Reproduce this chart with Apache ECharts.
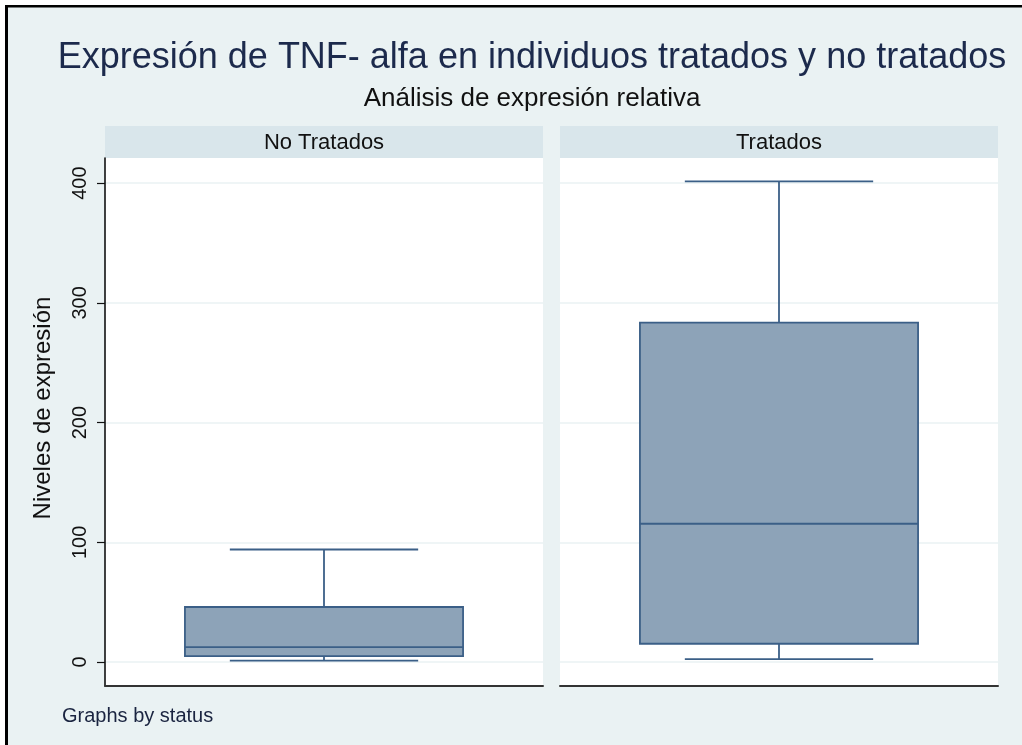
<!DOCTYPE html>
<html>
<head>
<meta charset="utf-8">
<script src="https://cdn.jsdelivr.net/npm/echarts@6/dist/echarts.min.js"></script>
<style>
  html, body { margin: 0; padding: 0; background: #fff; }
  #chart { width: 1022px; height: 745px; }
</style>
</head>
<body>
<div id="chart"></div>
<script>
// panels (one per status group)
const panels = ['No Tratados', 'Tratados']
// [min, q1, median, q3, max]
const boxNoTratados = [1.2, 5, 12.5, 46, 94]
const boxTratados = [2.5, 15.3, 115.5, 283.5, 401.5]
const yTicks = [0, 100, 200, 300, 400]

const bg = '#eaf2f3'
const stripBg = '#d9e6eb'
const boxFill = '#8da3b8'
const boxLine = '#3b5f87'
const font = '"Liberation Sans", Arial, sans-serif'

function renderBox(params, api) {
  const x = api.value(0)
  const lo = api.coord([x, api.value(1)])
  const q1 = api.coord([x, api.value(2)])
  const md = api.coord([x, api.value(3)])
  const q3 = api.coord([x, api.value(4)])
  const hi = api.coord([x, api.value(5)])
  const band = api.size([1, 0])[0]
  const bw = band * 0.635 / 2
  const cw = band * 0.43 / 2
  const cx = lo[0]
  const ls = { stroke: boxLine, lineWidth: 1.8 }
  return {
    type: 'group',
    children: [
      { type: 'line', shape: { x1: cx, y1: lo[1], x2: cx, y2: q1[1] }, style: ls },
      { type: 'line', shape: { x1: cx, y1: q3[1], x2: cx, y2: hi[1] }, style: ls },
      { type: 'line', shape: { x1: cx - cw, y1: lo[1], x2: cx + cw, y2: lo[1] }, style: ls },
      { type: 'line', shape: { x1: cx - cw, y1: hi[1], x2: cx + cw, y2: hi[1] }, style: ls },
      {
        type: 'rect',
        shape: { x: cx - bw, y: q3[1], width: bw * 2, height: q1[1] - q3[1] },
        style: { fill: boxFill, stroke: boxLine, lineWidth: 1.8 },
      },
      { type: 'line', shape: { x1: cx - bw, y1: md[1], x2: cx + bw, y2: md[1] }, style: ls },
    ],
  }
}

function yAxisFor(idx, showAxis) {
  return {
    gridIndex: idx,
    type: 'value',
    min: -20,
    max: 421,
    axisLine: { show: showAxis, onZero: false, lineStyle: { color: '#111', width: 1.6 } },
    axisTick: { show: showAxis, length: 8, customValues: yTicks, lineStyle: { color: '#111', width: 1.2 } },
    axisLabel: {
      show: showAxis,
      customValues: yTicks,
      rotate: 90,
      margin: 15,
      fontSize: 20,
      fontFamily: font,
      color: '#111',
    },
    splitLine: { show: true, lineStyle: { color: bg, width: 1.6 } },
  }
}

function xAxisFor(idx) {
  return {
    gridIndex: idx,
    type: 'category',
    data: [panels[idx]],
    axisLine: { show: true, onZero: false, lineStyle: { color: '#333', width: 2 } },
    axisTick: { show: false },
    axisLabel: { show: false },
    splitLine: { show: false },
  }
}

function textEl(text, x, y, size, color, rotation) {
  return {
    type: 'text',
    x: x,
    y: y,
    rotation: rotation || 0,
    style: {
      text: text,
      fontSize: size,
      fontFamily: font,
      fill: color,
      align: 'center',
      verticalAlign: 'middle',
    },
  }
}

const chart = echarts.init(document.getElementById('chart'), null, { renderer: 'canvas' })

chart.setOption({
  backgroundColor: bg,
  animation: false,
  grid: [
    { left: 105, right: 479, top: 158, bottom: 59, show: true, backgroundColor: '#fff', borderWidth: 0 },
    { left: 560, right: 24, top: 158, bottom: 59, show: true, backgroundColor: '#fff', borderWidth: 0 },
  ],
  xAxis: [xAxisFor(0), xAxisFor(1)],
  yAxis: [yAxisFor(0, true), yAxisFor(1, false)],
  series: [
    {
      type: 'custom',
      xAxisIndex: 0,
      yAxisIndex: 0,
      renderItem: renderBox,
      encode: { x: 0, y: [1, 2, 3, 4, 5] },
      data: [[0].concat(boxNoTratados)],
    },
    {
      type: 'custom',
      xAxisIndex: 1,
      yAxisIndex: 1,
      renderItem: renderBox,
      encode: { x: 0, y: [1, 2, 3, 4, 5] },
      data: [[0].concat(boxTratados)],
    },
  ],
  graphic: [
    // outer frame
    { type: 'rect', shape: { x: 0, y: 0, width: 1022, height: 5 }, style: { fill: '#fff' } },
    { type: 'rect', shape: { x: 0, y: 0, width: 5, height: 745 }, style: { fill: '#fff' } },
    { type: 'rect', shape: { x: 5, y: 5, width: 1017, height: 2.5 }, style: { fill: '#000' } },
    { type: 'rect', shape: { x: 5, y: 5, width: 3, height: 740 }, style: { fill: '#000' } },
    // panel strips
    { type: 'rect', shape: { x: 105, y: 126, width: 438, height: 32 }, style: { fill: stripBg } },
    { type: 'rect', shape: { x: 560, y: 126, width: 438, height: 32 }, style: { fill: stripBg } },
    textEl(panels[0], 324, 143, 22, '#111'),
    textEl(panels[1], 779, 143, 22, '#111'),
    textEl('Expresión de TNF- alfa en individuos tratados y no tratados', 532, 58, 36, '#1c2a4c'),
    textEl('Análisis de expresión relativa', 532, 99, 26, '#111'),
    textEl('Niveles de expresión', 43, 408, 24, '#111', Math.PI / 2),
    { type: 'text', x: 62, y: 716, style: { text: 'Graphs by status', fontSize: 20, fontFamily: font, fill: '#1a2440', align: 'left', verticalAlign: 'middle' } },
  ],
})
</script>
</body>
</html>
